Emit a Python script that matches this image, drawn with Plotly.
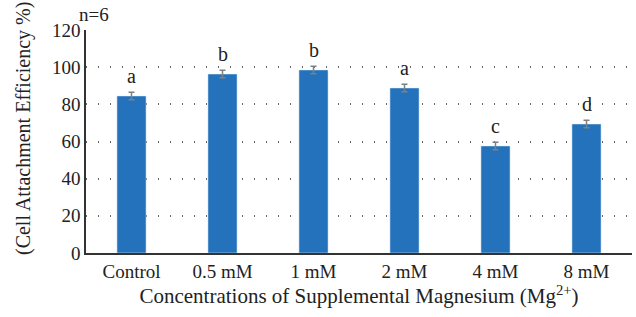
import plotly.graph_objects as go

categories = ["Control", "0.5 mM", "1 mM", "2 mM", "4 mM", "8 mM"]
values = [84.5, 96.3, 98.5, 88.8, 57.6, 69.4]
errors = [2.0, 2.0, 2.0, 2.0, 2.0, 2.0]
letters = ["a", "b", "b", "a", "c", "d"]

FONT = "Liberation Serif"
L, R, T, B = 86, 4, 30, 64
W, H = 636, 317
PW = W - L - R

fig = go.Figure()
fig.add_trace(go.Bar(
    x=categories, y=values,
    marker_color="#2372bb",
    error_y=dict(type="data", array=errors, color="#808080", thickness=1.5, width=3),
))

for c, v, e, t in zip(categories, values, errors, letters):
    fig.add_annotation(x=c, y=v + e, text=t, showarrow=False, yanchor="bottom",
                       yshift=3, font=dict(family=FONT, size=20, color="#222"))

fig.add_annotation(xref="paper", yref="paper", x=-9 / PW, y=1.0, yshift=16,
                   text="n=6", showarrow=False, xanchor="left", yanchor="middle",
                   font=dict(family=FONT, size=19, color="#222"))

fig.add_annotation(xref="paper", yref="paper", x=-(L - 23) / PW, y=0.556,
                   text="(Cell Attachment Efficiency %)", textangle=-90,
                   showarrow=False, xanchor="center", yanchor="middle",
                   font=dict(family=FONT, size=20, color="#222"))

fig.update_layout(
    width=W, height=H,
    margin=dict(l=L, r=R, t=T, b=B, autoexpand=False),
    plot_bgcolor="white", paper_bgcolor="white",
    bargap=0.68,
    showlegend=False,
    font=dict(family=FONT, size=18, color="#222"),
    xaxis=dict(
        automargin=False,
        showline=True, linecolor="#333", linewidth=1.5,
        ticks="", tickfont=dict(size=19),
        title=dict(text="Concentrations of Supplemental Magnesium (Mg<sup>2+</sup>)",
                   font=dict(size=21), standoff=7),
    ),
    yaxis=dict(
        automargin=False,
        range=[0, 120], dtick=20,
        showline=True, linecolor="#333", linewidth=1.5,
        showgrid=True, gridcolor="#666", griddash="1px,11px", gridwidth=1.5,
        zeroline=False, ticks="", tickfont=dict(size=19),
    ),
)

fig.write_html("out.html", config={"displayModeBar": False},
               post_script="document.body.style.margin='0';")
